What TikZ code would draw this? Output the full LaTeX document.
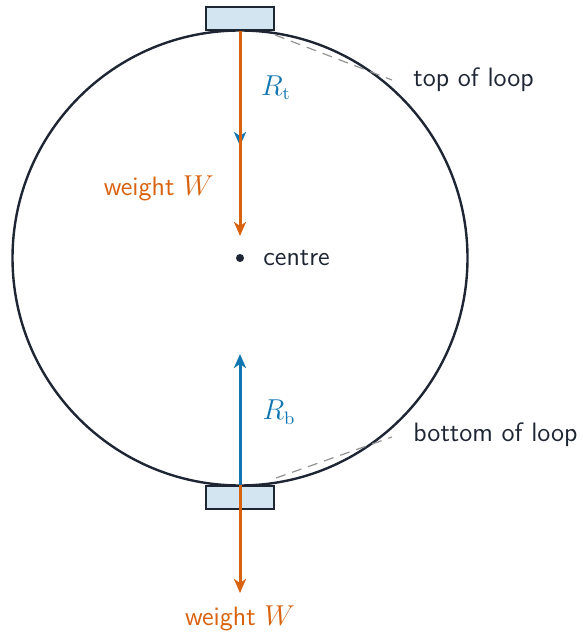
\documentclass[tikz,border=0pt]{standalone}
\usetikzlibrary{arrows.meta}
\definecolor{wcol}{RGB}{217,98,14}
\definecolor{rcol}{RGB}{16,118,178}
\definecolor{ink}{RGB}{30,38,52}
\definecolor{boxfill}{RGB}{210,229,240}
\begin{document}
\begin{tikzpicture}[x=0.5pt,y=-0.5pt,
  lbl/.style={font=\fontsize{13.3}{16}\sffamily, text=ink, inner sep=0pt},
  force/.style={line width=1.5pt, -{Stealth[length=7pt,width=6pt,inset=2pt]}},
  seat/.style={draw=ink, fill=boxfill, line width=1pt, minimum width=34pt, minimum height=11.5pt, inner sep=0pt},
  guide/.style={draw=gray!85, dashed, dash pattern=on 5pt off 3.5pt, line width=0.6pt}]
\useasboundingbox (0,0) rectangle (582,635);
\coordinate (C) at (240,258);
\draw[ink, line width=1.2pt] (C) circle[radius=227.5];
\node[seat, anchor=south] (tb) at (240,31) {};
\node[seat, anchor=north] (bb) at (240,485) {};
\coordinate (ttop) at (240,31);
\coordinate (bbot) at (240,485);
\coordinate (rtend) at (240,146);
\coordinate (wtend) at (240,236);
\coordinate (rbend) at (240,354);
\coordinate (wbend) at (240,593);
% top forces
\draw[force, rcol] (ttop) -- (rtend);
\draw[force, wcol] (ttop) -- (wtend);
% bottom forces
\draw[force, rcol] (bbot) -- (rbend);
\draw[force, wcol] (bbot) -- (wbend);
\fill[ink] (C) circle[radius=4];
\node[lbl, anchor=west] (cl) at (263,258) {centre};
\node[lbl, anchor=east, text=wcol] (wt) at (214,188) {weight $W$};
\node[lbl, anchor=center, text=wcol] (wb) at (240,618) {weight $W$};
\node[lbl, text=rcol] (rt) at (276,88) {$R_{\mathrm{t}}$};
\node[lbl, text=rcol] (rb) at (279,412) {$R_{\mathrm{b}}$};
\node[lbl, anchor=west] (tl) at (413,80) {top of loop};
\node[lbl, anchor=west] (bl) at (413,435) {bottom of loop};
\coordinate (tg1) at (275,35);
\coordinate (tg2) at (392,80);
\coordinate (bg1) at (276,478);
\coordinate (bg2) at (392,437);
\draw[guide] (tg1) -- (tg2);
\draw[guide] (bg1) -- (bg2);
\end{tikzpicture}
\end{document}
